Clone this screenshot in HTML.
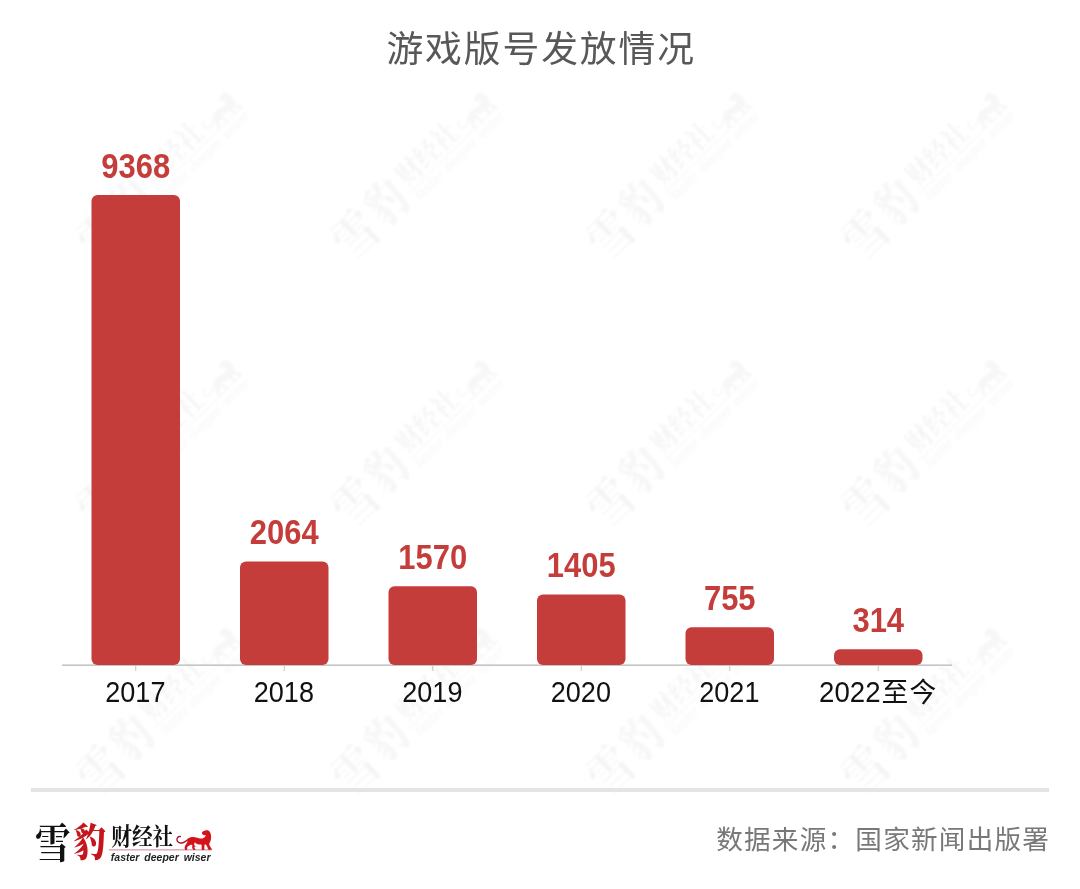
<!DOCTYPE html>
<html lang="zh-CN">
<head>
<meta charset="utf-8">
<title>游戏版号发放情况</title>
<style>
html,body{margin:0;padding:0;background:#fff;}
body{width:1080px;height:889px;overflow:hidden;position:relative;}
svg{display:block;position:absolute;left:0;top:0;}
.title{font-family:"Liberation Sans","Noto Sans CJK SC",sans-serif;font-weight:400;font-size:36.8px;letter-spacing:1.9px;fill:#585858;}
.val{font-family:"Liberation Sans","Noto Sans CJK SC",sans-serif;font-weight:700;font-size:34.6px;fill:#c53d3a;text-anchor:middle;}
.yr{font-family:"Liberation Sans","Noto Sans CJK SC",sans-serif;font-weight:400;font-size:28px;fill:#111;text-anchor:middle;}
.yd{font-size:29.5px;}
.yc{font-size:26.8px;letter-spacing:1.2px;}
.src{font-family:"Liberation Sans","Noto Sans CJK SC",sans-serif;font-weight:400;font-size:26.6px;letter-spacing:1.24px;fill:#787878;}
.lg-xue{font-family:"Liberation Serif","Noto Serif CJK SC",serif;font-weight:700;font-size:34px;fill:#111;}
.lg-bao{font-family:"Liberation Serif","Noto Serif CJK SC",serif;font-weight:900;font-size:35px;fill:#c4161c;}
.lg-cjs{font-family:"Liberation Serif","Noto Serif CJK SC",serif;font-weight:700;font-size:22px;fill:#111;}
.lg-en{font-family:"Liberation Sans",sans-serif;font-style:italic;font-weight:700;font-size:11.6px;word-spacing:2.2px;fill:#222;}
.lg-line{fill:#d7a1ab;}
.lg-cat{fill:#d3141b;}
.lg-tail{fill:none;stroke:#a8102a;stroke-width:1.35;stroke-linecap:round;}
.wm{opacity:.042;filter:blur(.8px);}
.wm text,.wm rect{fill:#000;}
.wm .lg-bao,.wm .lg-cat{fill:#444;}
.wm .lg-tail{stroke:#444;}
.wm .lg-en,.wm .lg-line{fill:#777;}
</style>
</head>
<body>
<svg width="1080" height="889" viewBox="0 0 1080 889">
<rect width="1080" height="889" fill="#ffffff"/>

<g class="wm">
<g transform="translate(159.5 174) rotate(-44.5) scale(1.2) translate(-87 -18)">
<text class="lg-xue" transform="translate(-1.2 34.2) scale(1.053 1.193)">雪</text>
<text class="lg-bao" transform="translate(37.5 32.8) scale(.925 1.12)">豹</text>
<text class="lg-cjs" transform="translate(75.3 21.4) scale(.938 1.06)">财经社</text>
<rect class="lg-line" x="73" y="25.700" width="103" height="1.3"/>
<text class="lg-en" x="74.8" y="37.2" textLength="99.700" lengthAdjust="spacingAndGlyphs">faster deeper wiser</text>
<path class="lg-tail" d="M144.35 13.01C143.97 13.05 143.45 12.78 142.72 13.17C141.99 13.57 141.60 13.89 141.21 14.72C140.83 15.56 140.88 15.86 141.09 16.76C141.30 17.66 141.30 17.95 142.11 18.59C142.92 19.24 143.32 19.43 144.56 19.53C145.79 19.63 146.17 19.46 147.41 19.00C148.64 18.54 148.81 18.24 149.85 17.57C150.90 16.91 151.41 16.48 151.89 16.15"/>
<path class="lg-cat" d="M151.48 15.74C151.98 14.98 152.47 14.82 153.52 14.32C154.56 13.81 154.73 13.72 155.96 13.58C157.20 13.44 157.39 13.51 158.82 13.70C160.24 13.89 160.55 14.08 162.07 14.40C163.60 14.71 164.10 15.02 165.33 15.05C166.57 15.08 166.52 14.96 167.37 14.52C168.23 14.08 168.43 13.77 169.00 13.17C169.57 12.58 169.91 12.28 169.82 11.95C169.72 11.63 169.26 11.95 168.59 11.79C167.93 11.63 167.51 11.62 166.96 11.26C166.41 10.90 166.47 10.78 166.23 10.24C165.99 9.70 165.77 9.46 165.94 8.94C166.12 8.41 166.35 8.41 166.96 8.00C167.58 7.59 167.74 7.47 168.59 7.19C169.45 6.90 169.68 6.75 170.63 6.78C171.58 6.81 171.86 6.78 172.67 7.31C173.48 7.83 173.57 8.05 174.09 9.02C174.62 9.99 174.69 10.13 174.91 11.46C175.13 12.79 175.17 13.20 175.03 14.72C174.89 16.24 174.71 16.65 174.30 17.98C173.89 19.31 173.33 19.29 173.28 20.43C173.23 21.57 173.52 21.62 174.09 22.87C174.66 24.13 175.68 25.00 175.72 25.80C175.77 26.61 175.06 26.26 174.30 26.33C173.54 26.41 173.18 26.84 172.46 26.13C171.75 25.42 171.76 24.32 171.24 23.28C170.72 22.23 170.79 22.17 170.22 21.65C169.65 21.13 169.22 20.56 168.80 21.04C168.37 21.51 168.53 22.48 168.39 23.69C168.25 24.89 168.76 25.62 168.19 26.21C167.62 26.80 166.53 26.80 165.94 26.21C165.36 25.62 165.78 24.83 165.66 23.69C165.54 22.54 165.78 21.97 165.42 21.32C165.05 20.68 164.99 21.08 164.11 20.92C163.24 20.75 162.67 20.89 161.67 20.63C160.67 20.37 160.50 20.26 159.83 19.82C159.17 19.37 159.17 18.57 158.82 18.72C158.46 18.86 158.47 19.74 158.33 20.43C158.18 21.11 157.85 21.10 158.20 21.65C158.56 22.20 159.81 22.31 159.83 22.79C159.86 23.26 158.42 22.91 158.33 23.69C158.23 24.47 159.65 25.54 159.43 26.13C159.21 26.72 158.15 26.69 157.39 26.21C156.63 25.74 156.40 25.06 156.17 24.09C155.93 23.12 156.61 22.72 156.37 22.06C156.13 21.39 155.81 21.24 155.15 21.24C154.48 21.24 154.33 21.63 153.52 22.06C152.71 22.48 152.24 22.46 151.69 23.07C151.13 23.69 151.30 23.97 151.16 24.70C151.01 25.44 151.55 25.86 151.07 26.21C150.60 26.56 149.67 26.80 149.12 26.21C148.57 25.62 148.64 24.75 148.71 23.69C148.79 22.62 148.94 22.60 149.44 21.65C149.95 20.70 150.41 20.56 150.87 19.61C151.33 18.66 151.26 18.48 151.40 17.57C151.54 16.67 150.99 16.50 151.48 15.74Z"/>
</g>
<g transform="translate(414.5 174) rotate(-44.5) scale(1.2) translate(-87 -18)">
<text class="lg-xue" transform="translate(-1.2 34.2) scale(1.053 1.193)">雪</text>
<text class="lg-bao" transform="translate(37.5 32.8) scale(.925 1.12)">豹</text>
<text class="lg-cjs" transform="translate(75.3 21.4) scale(.938 1.06)">财经社</text>
<rect class="lg-line" x="73" y="25.700" width="103" height="1.3"/>
<text class="lg-en" x="74.8" y="37.2" textLength="99.700" lengthAdjust="spacingAndGlyphs">faster deeper wiser</text>
<path class="lg-tail" d="M144.35 13.01C143.97 13.05 143.45 12.78 142.72 13.17C141.99 13.57 141.60 13.89 141.21 14.72C140.83 15.56 140.88 15.86 141.09 16.76C141.30 17.66 141.30 17.95 142.11 18.59C142.92 19.24 143.32 19.43 144.56 19.53C145.79 19.63 146.17 19.46 147.41 19.00C148.64 18.54 148.81 18.24 149.85 17.57C150.90 16.91 151.41 16.48 151.89 16.15"/>
<path class="lg-cat" d="M151.48 15.74C151.98 14.98 152.47 14.82 153.52 14.32C154.56 13.81 154.73 13.72 155.96 13.58C157.20 13.44 157.39 13.51 158.82 13.70C160.24 13.89 160.55 14.08 162.07 14.40C163.60 14.71 164.10 15.02 165.33 15.05C166.57 15.08 166.52 14.96 167.37 14.52C168.23 14.08 168.43 13.77 169.00 13.17C169.57 12.58 169.91 12.28 169.82 11.95C169.72 11.63 169.26 11.95 168.59 11.79C167.93 11.63 167.51 11.62 166.96 11.26C166.41 10.90 166.47 10.78 166.23 10.24C165.99 9.70 165.77 9.46 165.94 8.94C166.12 8.41 166.35 8.41 166.96 8.00C167.58 7.59 167.74 7.47 168.59 7.19C169.45 6.90 169.68 6.75 170.63 6.78C171.58 6.81 171.86 6.78 172.67 7.31C173.48 7.83 173.57 8.05 174.09 9.02C174.62 9.99 174.69 10.13 174.91 11.46C175.13 12.79 175.17 13.20 175.03 14.72C174.89 16.24 174.71 16.65 174.30 17.98C173.89 19.31 173.33 19.29 173.28 20.43C173.23 21.57 173.52 21.62 174.09 22.87C174.66 24.13 175.68 25.00 175.72 25.80C175.77 26.61 175.06 26.26 174.30 26.33C173.54 26.41 173.18 26.84 172.46 26.13C171.75 25.42 171.76 24.32 171.24 23.28C170.72 22.23 170.79 22.17 170.22 21.65C169.65 21.13 169.22 20.56 168.80 21.04C168.37 21.51 168.53 22.48 168.39 23.69C168.25 24.89 168.76 25.62 168.19 26.21C167.62 26.80 166.53 26.80 165.94 26.21C165.36 25.62 165.78 24.83 165.66 23.69C165.54 22.54 165.78 21.97 165.42 21.32C165.05 20.68 164.99 21.08 164.11 20.92C163.24 20.75 162.67 20.89 161.67 20.63C160.67 20.37 160.50 20.26 159.83 19.82C159.17 19.37 159.17 18.57 158.82 18.72C158.46 18.86 158.47 19.74 158.33 20.43C158.18 21.11 157.85 21.10 158.20 21.65C158.56 22.20 159.81 22.31 159.83 22.79C159.86 23.26 158.42 22.91 158.33 23.69C158.23 24.47 159.65 25.54 159.43 26.13C159.21 26.72 158.15 26.69 157.39 26.21C156.63 25.74 156.40 25.06 156.17 24.09C155.93 23.12 156.61 22.72 156.37 22.06C156.13 21.39 155.81 21.24 155.15 21.24C154.48 21.24 154.33 21.63 153.52 22.06C152.71 22.48 152.24 22.46 151.69 23.07C151.13 23.69 151.30 23.97 151.16 24.70C151.01 25.44 151.55 25.86 151.07 26.21C150.60 26.56 149.67 26.80 149.12 26.21C148.57 25.62 148.64 24.75 148.71 23.69C148.79 22.62 148.94 22.60 149.44 21.65C149.95 20.70 150.41 20.56 150.87 19.61C151.33 18.66 151.26 18.48 151.40 17.57C151.54 16.67 150.99 16.50 151.48 15.74Z"/>
</g>
<g transform="translate(669.5 174) rotate(-44.5) scale(1.2) translate(-87 -18)">
<text class="lg-xue" transform="translate(-1.2 34.2) scale(1.053 1.193)">雪</text>
<text class="lg-bao" transform="translate(37.5 32.8) scale(.925 1.12)">豹</text>
<text class="lg-cjs" transform="translate(75.3 21.4) scale(.938 1.06)">财经社</text>
<rect class="lg-line" x="73" y="25.700" width="103" height="1.3"/>
<text class="lg-en" x="74.8" y="37.2" textLength="99.700" lengthAdjust="spacingAndGlyphs">faster deeper wiser</text>
<path class="lg-tail" d="M144.35 13.01C143.97 13.05 143.45 12.78 142.72 13.17C141.99 13.57 141.60 13.89 141.21 14.72C140.83 15.56 140.88 15.86 141.09 16.76C141.30 17.66 141.30 17.95 142.11 18.59C142.92 19.24 143.32 19.43 144.56 19.53C145.79 19.63 146.17 19.46 147.41 19.00C148.64 18.54 148.81 18.24 149.85 17.57C150.90 16.91 151.41 16.48 151.89 16.15"/>
<path class="lg-cat" d="M151.48 15.74C151.98 14.98 152.47 14.82 153.52 14.32C154.56 13.81 154.73 13.72 155.96 13.58C157.20 13.44 157.39 13.51 158.82 13.70C160.24 13.89 160.55 14.08 162.07 14.40C163.60 14.71 164.10 15.02 165.33 15.05C166.57 15.08 166.52 14.96 167.37 14.52C168.23 14.08 168.43 13.77 169.00 13.17C169.57 12.58 169.91 12.28 169.82 11.95C169.72 11.63 169.26 11.95 168.59 11.79C167.93 11.63 167.51 11.62 166.96 11.26C166.41 10.90 166.47 10.78 166.23 10.24C165.99 9.70 165.77 9.46 165.94 8.94C166.12 8.41 166.35 8.41 166.96 8.00C167.58 7.59 167.74 7.47 168.59 7.19C169.45 6.90 169.68 6.75 170.63 6.78C171.58 6.81 171.86 6.78 172.67 7.31C173.48 7.83 173.57 8.05 174.09 9.02C174.62 9.99 174.69 10.13 174.91 11.46C175.13 12.79 175.17 13.20 175.03 14.72C174.89 16.24 174.71 16.65 174.30 17.98C173.89 19.31 173.33 19.29 173.28 20.43C173.23 21.57 173.52 21.62 174.09 22.87C174.66 24.13 175.68 25.00 175.72 25.80C175.77 26.61 175.06 26.26 174.30 26.33C173.54 26.41 173.18 26.84 172.46 26.13C171.75 25.42 171.76 24.32 171.24 23.28C170.72 22.23 170.79 22.17 170.22 21.65C169.65 21.13 169.22 20.56 168.80 21.04C168.37 21.51 168.53 22.48 168.39 23.69C168.25 24.89 168.76 25.62 168.19 26.21C167.62 26.80 166.53 26.80 165.94 26.21C165.36 25.62 165.78 24.83 165.66 23.69C165.54 22.54 165.78 21.97 165.42 21.32C165.05 20.68 164.99 21.08 164.11 20.92C163.24 20.75 162.67 20.89 161.67 20.63C160.67 20.37 160.50 20.26 159.83 19.82C159.17 19.37 159.17 18.57 158.82 18.72C158.46 18.86 158.47 19.74 158.33 20.43C158.18 21.11 157.85 21.10 158.20 21.65C158.56 22.20 159.81 22.31 159.83 22.79C159.86 23.26 158.42 22.91 158.33 23.69C158.23 24.47 159.65 25.54 159.43 26.13C159.21 26.72 158.15 26.69 157.39 26.21C156.63 25.74 156.40 25.06 156.17 24.09C155.93 23.12 156.61 22.72 156.37 22.06C156.13 21.39 155.81 21.24 155.15 21.24C154.48 21.24 154.33 21.63 153.52 22.06C152.71 22.48 152.24 22.46 151.69 23.07C151.13 23.69 151.30 23.97 151.16 24.70C151.01 25.44 151.55 25.86 151.07 26.21C150.60 26.56 149.67 26.80 149.12 26.21C148.57 25.62 148.64 24.75 148.71 23.69C148.79 22.62 148.94 22.60 149.44 21.65C149.95 20.70 150.41 20.56 150.87 19.61C151.33 18.66 151.26 18.48 151.40 17.57C151.54 16.67 150.99 16.50 151.48 15.74Z"/>
</g>
<g transform="translate(924.5 174) rotate(-44.5) scale(1.2) translate(-87 -18)">
<text class="lg-xue" transform="translate(-1.2 34.2) scale(1.053 1.193)">雪</text>
<text class="lg-bao" transform="translate(37.5 32.8) scale(.925 1.12)">豹</text>
<text class="lg-cjs" transform="translate(75.3 21.4) scale(.938 1.06)">财经社</text>
<rect class="lg-line" x="73" y="25.700" width="103" height="1.3"/>
<text class="lg-en" x="74.8" y="37.2" textLength="99.700" lengthAdjust="spacingAndGlyphs">faster deeper wiser</text>
<path class="lg-tail" d="M144.35 13.01C143.97 13.05 143.45 12.78 142.72 13.17C141.99 13.57 141.60 13.89 141.21 14.72C140.83 15.56 140.88 15.86 141.09 16.76C141.30 17.66 141.30 17.95 142.11 18.59C142.92 19.24 143.32 19.43 144.56 19.53C145.79 19.63 146.17 19.46 147.41 19.00C148.64 18.54 148.81 18.24 149.85 17.57C150.90 16.91 151.41 16.48 151.89 16.15"/>
<path class="lg-cat" d="M151.48 15.74C151.98 14.98 152.47 14.82 153.52 14.32C154.56 13.81 154.73 13.72 155.96 13.58C157.20 13.44 157.39 13.51 158.82 13.70C160.24 13.89 160.55 14.08 162.07 14.40C163.60 14.71 164.10 15.02 165.33 15.05C166.57 15.08 166.52 14.96 167.37 14.52C168.23 14.08 168.43 13.77 169.00 13.17C169.57 12.58 169.91 12.28 169.82 11.95C169.72 11.63 169.26 11.95 168.59 11.79C167.93 11.63 167.51 11.62 166.96 11.26C166.41 10.90 166.47 10.78 166.23 10.24C165.99 9.70 165.77 9.46 165.94 8.94C166.12 8.41 166.35 8.41 166.96 8.00C167.58 7.59 167.74 7.47 168.59 7.19C169.45 6.90 169.68 6.75 170.63 6.78C171.58 6.81 171.86 6.78 172.67 7.31C173.48 7.83 173.57 8.05 174.09 9.02C174.62 9.99 174.69 10.13 174.91 11.46C175.13 12.79 175.17 13.20 175.03 14.72C174.89 16.24 174.71 16.65 174.30 17.98C173.89 19.31 173.33 19.29 173.28 20.43C173.23 21.57 173.52 21.62 174.09 22.87C174.66 24.13 175.68 25.00 175.72 25.80C175.77 26.61 175.06 26.26 174.30 26.33C173.54 26.41 173.18 26.84 172.46 26.13C171.75 25.42 171.76 24.32 171.24 23.28C170.72 22.23 170.79 22.17 170.22 21.65C169.65 21.13 169.22 20.56 168.80 21.04C168.37 21.51 168.53 22.48 168.39 23.69C168.25 24.89 168.76 25.62 168.19 26.21C167.62 26.80 166.53 26.80 165.94 26.21C165.36 25.62 165.78 24.83 165.66 23.69C165.54 22.54 165.78 21.97 165.42 21.32C165.05 20.68 164.99 21.08 164.11 20.92C163.24 20.75 162.67 20.89 161.67 20.63C160.67 20.37 160.50 20.26 159.83 19.82C159.17 19.37 159.17 18.57 158.82 18.72C158.46 18.86 158.47 19.74 158.33 20.43C158.18 21.11 157.85 21.10 158.20 21.65C158.56 22.20 159.81 22.31 159.83 22.79C159.86 23.26 158.42 22.91 158.33 23.69C158.23 24.47 159.65 25.54 159.43 26.13C159.21 26.72 158.15 26.69 157.39 26.21C156.63 25.74 156.40 25.06 156.17 24.09C155.93 23.12 156.61 22.72 156.37 22.06C156.13 21.39 155.81 21.24 155.15 21.24C154.48 21.24 154.33 21.63 153.52 22.06C152.71 22.48 152.24 22.46 151.69 23.07C151.13 23.69 151.30 23.97 151.16 24.70C151.01 25.44 151.55 25.86 151.07 26.21C150.60 26.56 149.67 26.80 149.12 26.21C148.57 25.62 148.64 24.75 148.71 23.69C148.79 22.62 148.94 22.60 149.44 21.65C149.95 20.70 150.41 20.56 150.87 19.61C151.33 18.66 151.26 18.48 151.40 17.57C151.54 16.67 150.99 16.50 151.48 15.74Z"/>
</g>
<g transform="translate(159.5 441.5) rotate(-44.5) scale(1.2) translate(-87 -18)">
<text class="lg-xue" transform="translate(-1.2 34.2) scale(1.053 1.193)">雪</text>
<text class="lg-bao" transform="translate(37.5 32.8) scale(.925 1.12)">豹</text>
<text class="lg-cjs" transform="translate(75.3 21.4) scale(.938 1.06)">财经社</text>
<rect class="lg-line" x="73" y="25.700" width="103" height="1.3"/>
<text class="lg-en" x="74.8" y="37.2" textLength="99.700" lengthAdjust="spacingAndGlyphs">faster deeper wiser</text>
<path class="lg-tail" d="M144.35 13.01C143.97 13.05 143.45 12.78 142.72 13.17C141.99 13.57 141.60 13.89 141.21 14.72C140.83 15.56 140.88 15.86 141.09 16.76C141.30 17.66 141.30 17.95 142.11 18.59C142.92 19.24 143.32 19.43 144.56 19.53C145.79 19.63 146.17 19.46 147.41 19.00C148.64 18.54 148.81 18.24 149.85 17.57C150.90 16.91 151.41 16.48 151.89 16.15"/>
<path class="lg-cat" d="M151.48 15.74C151.98 14.98 152.47 14.82 153.52 14.32C154.56 13.81 154.73 13.72 155.96 13.58C157.20 13.44 157.39 13.51 158.82 13.70C160.24 13.89 160.55 14.08 162.07 14.40C163.60 14.71 164.10 15.02 165.33 15.05C166.57 15.08 166.52 14.96 167.37 14.52C168.23 14.08 168.43 13.77 169.00 13.17C169.57 12.58 169.91 12.28 169.82 11.95C169.72 11.63 169.26 11.95 168.59 11.79C167.93 11.63 167.51 11.62 166.96 11.26C166.41 10.90 166.47 10.78 166.23 10.24C165.99 9.70 165.77 9.46 165.94 8.94C166.12 8.41 166.35 8.41 166.96 8.00C167.58 7.59 167.74 7.47 168.59 7.19C169.45 6.90 169.68 6.75 170.63 6.78C171.58 6.81 171.86 6.78 172.67 7.31C173.48 7.83 173.57 8.05 174.09 9.02C174.62 9.99 174.69 10.13 174.91 11.46C175.13 12.79 175.17 13.20 175.03 14.72C174.89 16.24 174.71 16.65 174.30 17.98C173.89 19.31 173.33 19.29 173.28 20.43C173.23 21.57 173.52 21.62 174.09 22.87C174.66 24.13 175.68 25.00 175.72 25.80C175.77 26.61 175.06 26.26 174.30 26.33C173.54 26.41 173.18 26.84 172.46 26.13C171.75 25.42 171.76 24.32 171.24 23.28C170.72 22.23 170.79 22.17 170.22 21.65C169.65 21.13 169.22 20.56 168.80 21.04C168.37 21.51 168.53 22.48 168.39 23.69C168.25 24.89 168.76 25.62 168.19 26.21C167.62 26.80 166.53 26.80 165.94 26.21C165.36 25.62 165.78 24.83 165.66 23.69C165.54 22.54 165.78 21.97 165.42 21.32C165.05 20.68 164.99 21.08 164.11 20.92C163.24 20.75 162.67 20.89 161.67 20.63C160.67 20.37 160.50 20.26 159.83 19.82C159.17 19.37 159.17 18.57 158.82 18.72C158.46 18.86 158.47 19.74 158.33 20.43C158.18 21.11 157.85 21.10 158.20 21.65C158.56 22.20 159.81 22.31 159.83 22.79C159.86 23.26 158.42 22.91 158.33 23.69C158.23 24.47 159.65 25.54 159.43 26.13C159.21 26.72 158.15 26.69 157.39 26.21C156.63 25.74 156.40 25.06 156.17 24.09C155.93 23.12 156.61 22.72 156.37 22.06C156.13 21.39 155.81 21.24 155.15 21.24C154.48 21.24 154.33 21.63 153.52 22.06C152.71 22.48 152.24 22.46 151.69 23.07C151.13 23.69 151.30 23.97 151.16 24.70C151.01 25.44 151.55 25.86 151.07 26.21C150.60 26.56 149.67 26.80 149.12 26.21C148.57 25.62 148.64 24.75 148.71 23.69C148.79 22.62 148.94 22.60 149.44 21.65C149.95 20.70 150.41 20.56 150.87 19.61C151.33 18.66 151.26 18.48 151.40 17.57C151.54 16.67 150.99 16.50 151.48 15.74Z"/>
</g>
<g transform="translate(414.5 441.5) rotate(-44.5) scale(1.2) translate(-87 -18)">
<text class="lg-xue" transform="translate(-1.2 34.2) scale(1.053 1.193)">雪</text>
<text class="lg-bao" transform="translate(37.5 32.8) scale(.925 1.12)">豹</text>
<text class="lg-cjs" transform="translate(75.3 21.4) scale(.938 1.06)">财经社</text>
<rect class="lg-line" x="73" y="25.700" width="103" height="1.3"/>
<text class="lg-en" x="74.8" y="37.2" textLength="99.700" lengthAdjust="spacingAndGlyphs">faster deeper wiser</text>
<path class="lg-tail" d="M144.35 13.01C143.97 13.05 143.45 12.78 142.72 13.17C141.99 13.57 141.60 13.89 141.21 14.72C140.83 15.56 140.88 15.86 141.09 16.76C141.30 17.66 141.30 17.95 142.11 18.59C142.92 19.24 143.32 19.43 144.56 19.53C145.79 19.63 146.17 19.46 147.41 19.00C148.64 18.54 148.81 18.24 149.85 17.57C150.90 16.91 151.41 16.48 151.89 16.15"/>
<path class="lg-cat" d="M151.48 15.74C151.98 14.98 152.47 14.82 153.52 14.32C154.56 13.81 154.73 13.72 155.96 13.58C157.20 13.44 157.39 13.51 158.82 13.70C160.24 13.89 160.55 14.08 162.07 14.40C163.60 14.71 164.10 15.02 165.33 15.05C166.57 15.08 166.52 14.96 167.37 14.52C168.23 14.08 168.43 13.77 169.00 13.17C169.57 12.58 169.91 12.28 169.82 11.95C169.72 11.63 169.26 11.95 168.59 11.79C167.93 11.63 167.51 11.62 166.96 11.26C166.41 10.90 166.47 10.78 166.23 10.24C165.99 9.70 165.77 9.46 165.94 8.94C166.12 8.41 166.35 8.41 166.96 8.00C167.58 7.59 167.74 7.47 168.59 7.19C169.45 6.90 169.68 6.75 170.63 6.78C171.58 6.81 171.86 6.78 172.67 7.31C173.48 7.83 173.57 8.05 174.09 9.02C174.62 9.99 174.69 10.13 174.91 11.46C175.13 12.79 175.17 13.20 175.03 14.72C174.89 16.24 174.71 16.65 174.30 17.98C173.89 19.31 173.33 19.29 173.28 20.43C173.23 21.57 173.52 21.62 174.09 22.87C174.66 24.13 175.68 25.00 175.72 25.80C175.77 26.61 175.06 26.26 174.30 26.33C173.54 26.41 173.18 26.84 172.46 26.13C171.75 25.42 171.76 24.32 171.24 23.28C170.72 22.23 170.79 22.17 170.22 21.65C169.65 21.13 169.22 20.56 168.80 21.04C168.37 21.51 168.53 22.48 168.39 23.69C168.25 24.89 168.76 25.62 168.19 26.21C167.62 26.80 166.53 26.80 165.94 26.21C165.36 25.62 165.78 24.83 165.66 23.69C165.54 22.54 165.78 21.97 165.42 21.32C165.05 20.68 164.99 21.08 164.11 20.92C163.24 20.75 162.67 20.89 161.67 20.63C160.67 20.37 160.50 20.26 159.83 19.82C159.17 19.37 159.17 18.57 158.82 18.72C158.46 18.86 158.47 19.74 158.33 20.43C158.18 21.11 157.85 21.10 158.20 21.65C158.56 22.20 159.81 22.31 159.83 22.79C159.86 23.26 158.42 22.91 158.33 23.69C158.23 24.47 159.65 25.54 159.43 26.13C159.21 26.72 158.15 26.69 157.39 26.21C156.63 25.74 156.40 25.06 156.17 24.09C155.93 23.12 156.61 22.72 156.37 22.06C156.13 21.39 155.81 21.24 155.15 21.24C154.48 21.24 154.33 21.63 153.52 22.06C152.71 22.48 152.24 22.46 151.69 23.07C151.13 23.69 151.30 23.97 151.16 24.70C151.01 25.44 151.55 25.86 151.07 26.21C150.60 26.56 149.67 26.80 149.12 26.21C148.57 25.62 148.64 24.75 148.71 23.69C148.79 22.62 148.94 22.60 149.44 21.65C149.95 20.70 150.41 20.56 150.87 19.61C151.33 18.66 151.26 18.48 151.40 17.57C151.54 16.67 150.99 16.50 151.48 15.74Z"/>
</g>
<g transform="translate(669.5 441.5) rotate(-44.5) scale(1.2) translate(-87 -18)">
<text class="lg-xue" transform="translate(-1.2 34.2) scale(1.053 1.193)">雪</text>
<text class="lg-bao" transform="translate(37.5 32.8) scale(.925 1.12)">豹</text>
<text class="lg-cjs" transform="translate(75.3 21.4) scale(.938 1.06)">财经社</text>
<rect class="lg-line" x="73" y="25.700" width="103" height="1.3"/>
<text class="lg-en" x="74.8" y="37.2" textLength="99.700" lengthAdjust="spacingAndGlyphs">faster deeper wiser</text>
<path class="lg-tail" d="M144.35 13.01C143.97 13.05 143.45 12.78 142.72 13.17C141.99 13.57 141.60 13.89 141.21 14.72C140.83 15.56 140.88 15.86 141.09 16.76C141.30 17.66 141.30 17.95 142.11 18.59C142.92 19.24 143.32 19.43 144.56 19.53C145.79 19.63 146.17 19.46 147.41 19.00C148.64 18.54 148.81 18.24 149.85 17.57C150.90 16.91 151.41 16.48 151.89 16.15"/>
<path class="lg-cat" d="M151.48 15.74C151.98 14.98 152.47 14.82 153.52 14.32C154.56 13.81 154.73 13.72 155.96 13.58C157.20 13.44 157.39 13.51 158.82 13.70C160.24 13.89 160.55 14.08 162.07 14.40C163.60 14.71 164.10 15.02 165.33 15.05C166.57 15.08 166.52 14.96 167.37 14.52C168.23 14.08 168.43 13.77 169.00 13.17C169.57 12.58 169.91 12.28 169.82 11.95C169.72 11.63 169.26 11.95 168.59 11.79C167.93 11.63 167.51 11.62 166.96 11.26C166.41 10.90 166.47 10.78 166.23 10.24C165.99 9.70 165.77 9.46 165.94 8.94C166.12 8.41 166.35 8.41 166.96 8.00C167.58 7.59 167.74 7.47 168.59 7.19C169.45 6.90 169.68 6.75 170.63 6.78C171.58 6.81 171.86 6.78 172.67 7.31C173.48 7.83 173.57 8.05 174.09 9.02C174.62 9.99 174.69 10.13 174.91 11.46C175.13 12.79 175.17 13.20 175.03 14.72C174.89 16.24 174.71 16.65 174.30 17.98C173.89 19.31 173.33 19.29 173.28 20.43C173.23 21.57 173.52 21.62 174.09 22.87C174.66 24.13 175.68 25.00 175.72 25.80C175.77 26.61 175.06 26.26 174.30 26.33C173.54 26.41 173.18 26.84 172.46 26.13C171.75 25.42 171.76 24.32 171.24 23.28C170.72 22.23 170.79 22.17 170.22 21.65C169.65 21.13 169.22 20.56 168.80 21.04C168.37 21.51 168.53 22.48 168.39 23.69C168.25 24.89 168.76 25.62 168.19 26.21C167.62 26.80 166.53 26.80 165.94 26.21C165.36 25.62 165.78 24.83 165.66 23.69C165.54 22.54 165.78 21.97 165.42 21.32C165.05 20.68 164.99 21.08 164.11 20.92C163.24 20.75 162.67 20.89 161.67 20.63C160.67 20.37 160.50 20.26 159.83 19.82C159.17 19.37 159.17 18.57 158.82 18.72C158.46 18.86 158.47 19.74 158.33 20.43C158.18 21.11 157.85 21.10 158.20 21.65C158.56 22.20 159.81 22.31 159.83 22.79C159.86 23.26 158.42 22.91 158.33 23.69C158.23 24.47 159.65 25.54 159.43 26.13C159.21 26.72 158.15 26.69 157.39 26.21C156.63 25.74 156.40 25.06 156.17 24.09C155.93 23.12 156.61 22.72 156.37 22.06C156.13 21.39 155.81 21.24 155.15 21.24C154.48 21.24 154.33 21.63 153.52 22.06C152.71 22.48 152.24 22.46 151.69 23.07C151.13 23.69 151.30 23.97 151.16 24.70C151.01 25.44 151.55 25.86 151.07 26.21C150.60 26.56 149.67 26.80 149.12 26.21C148.57 25.62 148.64 24.75 148.71 23.69C148.79 22.62 148.94 22.60 149.44 21.65C149.95 20.70 150.41 20.56 150.87 19.61C151.33 18.66 151.26 18.48 151.40 17.57C151.54 16.67 150.99 16.50 151.48 15.74Z"/>
</g>
<g transform="translate(924.5 441.5) rotate(-44.5) scale(1.2) translate(-87 -18)">
<text class="lg-xue" transform="translate(-1.2 34.2) scale(1.053 1.193)">雪</text>
<text class="lg-bao" transform="translate(37.5 32.8) scale(.925 1.12)">豹</text>
<text class="lg-cjs" transform="translate(75.3 21.4) scale(.938 1.06)">财经社</text>
<rect class="lg-line" x="73" y="25.700" width="103" height="1.3"/>
<text class="lg-en" x="74.8" y="37.2" textLength="99.700" lengthAdjust="spacingAndGlyphs">faster deeper wiser</text>
<path class="lg-tail" d="M144.35 13.01C143.97 13.05 143.45 12.78 142.72 13.17C141.99 13.57 141.60 13.89 141.21 14.72C140.83 15.56 140.88 15.86 141.09 16.76C141.30 17.66 141.30 17.95 142.11 18.59C142.92 19.24 143.32 19.43 144.56 19.53C145.79 19.63 146.17 19.46 147.41 19.00C148.64 18.54 148.81 18.24 149.85 17.57C150.90 16.91 151.41 16.48 151.89 16.15"/>
<path class="lg-cat" d="M151.48 15.74C151.98 14.98 152.47 14.82 153.52 14.32C154.56 13.81 154.73 13.72 155.96 13.58C157.20 13.44 157.39 13.51 158.82 13.70C160.24 13.89 160.55 14.08 162.07 14.40C163.60 14.71 164.10 15.02 165.33 15.05C166.57 15.08 166.52 14.96 167.37 14.52C168.23 14.08 168.43 13.77 169.00 13.17C169.57 12.58 169.91 12.28 169.82 11.95C169.72 11.63 169.26 11.95 168.59 11.79C167.93 11.63 167.51 11.62 166.96 11.26C166.41 10.90 166.47 10.78 166.23 10.24C165.99 9.70 165.77 9.46 165.94 8.94C166.12 8.41 166.35 8.41 166.96 8.00C167.58 7.59 167.74 7.47 168.59 7.19C169.45 6.90 169.68 6.75 170.63 6.78C171.58 6.81 171.86 6.78 172.67 7.31C173.48 7.83 173.57 8.05 174.09 9.02C174.62 9.99 174.69 10.13 174.91 11.46C175.13 12.79 175.17 13.20 175.03 14.72C174.89 16.24 174.71 16.65 174.30 17.98C173.89 19.31 173.33 19.29 173.28 20.43C173.23 21.57 173.52 21.62 174.09 22.87C174.66 24.13 175.68 25.00 175.72 25.80C175.77 26.61 175.06 26.26 174.30 26.33C173.54 26.41 173.18 26.84 172.46 26.13C171.75 25.42 171.76 24.32 171.24 23.28C170.72 22.23 170.79 22.17 170.22 21.65C169.65 21.13 169.22 20.56 168.80 21.04C168.37 21.51 168.53 22.48 168.39 23.69C168.25 24.89 168.76 25.62 168.19 26.21C167.62 26.80 166.53 26.80 165.94 26.21C165.36 25.62 165.78 24.83 165.66 23.69C165.54 22.54 165.78 21.97 165.42 21.32C165.05 20.68 164.99 21.08 164.11 20.92C163.24 20.75 162.67 20.89 161.67 20.63C160.67 20.37 160.50 20.26 159.83 19.82C159.17 19.37 159.17 18.57 158.82 18.72C158.46 18.86 158.47 19.74 158.33 20.43C158.18 21.11 157.85 21.10 158.20 21.65C158.56 22.20 159.81 22.31 159.83 22.79C159.86 23.26 158.42 22.91 158.33 23.69C158.23 24.47 159.65 25.54 159.43 26.13C159.21 26.72 158.15 26.69 157.39 26.21C156.63 25.74 156.40 25.06 156.17 24.09C155.93 23.12 156.61 22.72 156.37 22.06C156.13 21.39 155.81 21.24 155.15 21.24C154.48 21.24 154.33 21.63 153.52 22.06C152.71 22.48 152.24 22.46 151.69 23.07C151.13 23.69 151.30 23.97 151.16 24.70C151.01 25.44 151.55 25.86 151.07 26.21C150.60 26.56 149.67 26.80 149.12 26.21C148.57 25.62 148.64 24.75 148.71 23.69C148.79 22.62 148.94 22.60 149.44 21.65C149.95 20.70 150.41 20.56 150.87 19.61C151.33 18.66 151.26 18.48 151.40 17.57C151.54 16.67 150.99 16.50 151.48 15.74Z"/>
</g>
<g transform="translate(159.5 709.5) rotate(-44.5) scale(1.2) translate(-87 -18)">
<text class="lg-xue" transform="translate(-1.2 34.2) scale(1.053 1.193)">雪</text>
<text class="lg-bao" transform="translate(37.5 32.8) scale(.925 1.12)">豹</text>
<text class="lg-cjs" transform="translate(75.3 21.4) scale(.938 1.06)">财经社</text>
<rect class="lg-line" x="73" y="25.700" width="103" height="1.3"/>
<text class="lg-en" x="74.8" y="37.2" textLength="99.700" lengthAdjust="spacingAndGlyphs">faster deeper wiser</text>
<path class="lg-tail" d="M144.35 13.01C143.97 13.05 143.45 12.78 142.72 13.17C141.99 13.57 141.60 13.89 141.21 14.72C140.83 15.56 140.88 15.86 141.09 16.76C141.30 17.66 141.30 17.95 142.11 18.59C142.92 19.24 143.32 19.43 144.56 19.53C145.79 19.63 146.17 19.46 147.41 19.00C148.64 18.54 148.81 18.24 149.85 17.57C150.90 16.91 151.41 16.48 151.89 16.15"/>
<path class="lg-cat" d="M151.48 15.74C151.98 14.98 152.47 14.82 153.52 14.32C154.56 13.81 154.73 13.72 155.96 13.58C157.20 13.44 157.39 13.51 158.82 13.70C160.24 13.89 160.55 14.08 162.07 14.40C163.60 14.71 164.10 15.02 165.33 15.05C166.57 15.08 166.52 14.96 167.37 14.52C168.23 14.08 168.43 13.77 169.00 13.17C169.57 12.58 169.91 12.28 169.82 11.95C169.72 11.63 169.26 11.95 168.59 11.79C167.93 11.63 167.51 11.62 166.96 11.26C166.41 10.90 166.47 10.78 166.23 10.24C165.99 9.70 165.77 9.46 165.94 8.94C166.12 8.41 166.35 8.41 166.96 8.00C167.58 7.59 167.74 7.47 168.59 7.19C169.45 6.90 169.68 6.75 170.63 6.78C171.58 6.81 171.86 6.78 172.67 7.31C173.48 7.83 173.57 8.05 174.09 9.02C174.62 9.99 174.69 10.13 174.91 11.46C175.13 12.79 175.17 13.20 175.03 14.72C174.89 16.24 174.71 16.65 174.30 17.98C173.89 19.31 173.33 19.29 173.28 20.43C173.23 21.57 173.52 21.62 174.09 22.87C174.66 24.13 175.68 25.00 175.72 25.80C175.77 26.61 175.06 26.26 174.30 26.33C173.54 26.41 173.18 26.84 172.46 26.13C171.75 25.42 171.76 24.32 171.24 23.28C170.72 22.23 170.79 22.17 170.22 21.65C169.65 21.13 169.22 20.56 168.80 21.04C168.37 21.51 168.53 22.48 168.39 23.69C168.25 24.89 168.76 25.62 168.19 26.21C167.62 26.80 166.53 26.80 165.94 26.21C165.36 25.62 165.78 24.83 165.66 23.69C165.54 22.54 165.78 21.97 165.42 21.32C165.05 20.68 164.99 21.08 164.11 20.92C163.24 20.75 162.67 20.89 161.67 20.63C160.67 20.37 160.50 20.26 159.83 19.82C159.17 19.37 159.17 18.57 158.82 18.72C158.46 18.86 158.47 19.74 158.33 20.43C158.18 21.11 157.85 21.10 158.20 21.65C158.56 22.20 159.81 22.31 159.83 22.79C159.86 23.26 158.42 22.91 158.33 23.69C158.23 24.47 159.65 25.54 159.43 26.13C159.21 26.72 158.15 26.69 157.39 26.21C156.63 25.74 156.40 25.06 156.17 24.09C155.93 23.12 156.61 22.72 156.37 22.06C156.13 21.39 155.81 21.24 155.15 21.24C154.48 21.24 154.33 21.63 153.52 22.06C152.71 22.48 152.24 22.46 151.69 23.07C151.13 23.69 151.30 23.97 151.16 24.70C151.01 25.44 151.55 25.86 151.07 26.21C150.60 26.56 149.67 26.80 149.12 26.21C148.57 25.62 148.64 24.75 148.71 23.69C148.79 22.62 148.94 22.60 149.44 21.65C149.95 20.70 150.41 20.56 150.87 19.61C151.33 18.66 151.26 18.48 151.40 17.57C151.54 16.67 150.99 16.50 151.48 15.74Z"/>
</g>
<g transform="translate(414.5 709.5) rotate(-44.5) scale(1.2) translate(-87 -18)">
<text class="lg-xue" transform="translate(-1.2 34.2) scale(1.053 1.193)">雪</text>
<text class="lg-bao" transform="translate(37.5 32.8) scale(.925 1.12)">豹</text>
<text class="lg-cjs" transform="translate(75.3 21.4) scale(.938 1.06)">财经社</text>
<rect class="lg-line" x="73" y="25.700" width="103" height="1.3"/>
<text class="lg-en" x="74.8" y="37.2" textLength="99.700" lengthAdjust="spacingAndGlyphs">faster deeper wiser</text>
<path class="lg-tail" d="M144.35 13.01C143.97 13.05 143.45 12.78 142.72 13.17C141.99 13.57 141.60 13.89 141.21 14.72C140.83 15.56 140.88 15.86 141.09 16.76C141.30 17.66 141.30 17.95 142.11 18.59C142.92 19.24 143.32 19.43 144.56 19.53C145.79 19.63 146.17 19.46 147.41 19.00C148.64 18.54 148.81 18.24 149.85 17.57C150.90 16.91 151.41 16.48 151.89 16.15"/>
<path class="lg-cat" d="M151.48 15.74C151.98 14.98 152.47 14.82 153.52 14.32C154.56 13.81 154.73 13.72 155.96 13.58C157.20 13.44 157.39 13.51 158.82 13.70C160.24 13.89 160.55 14.08 162.07 14.40C163.60 14.71 164.10 15.02 165.33 15.05C166.57 15.08 166.52 14.96 167.37 14.52C168.23 14.08 168.43 13.77 169.00 13.17C169.57 12.58 169.91 12.28 169.82 11.95C169.72 11.63 169.26 11.95 168.59 11.79C167.93 11.63 167.51 11.62 166.96 11.26C166.41 10.90 166.47 10.78 166.23 10.24C165.99 9.70 165.77 9.46 165.94 8.94C166.12 8.41 166.35 8.41 166.96 8.00C167.58 7.59 167.74 7.47 168.59 7.19C169.45 6.90 169.68 6.75 170.63 6.78C171.58 6.81 171.86 6.78 172.67 7.31C173.48 7.83 173.57 8.05 174.09 9.02C174.62 9.99 174.69 10.13 174.91 11.46C175.13 12.79 175.17 13.20 175.03 14.72C174.89 16.24 174.71 16.65 174.30 17.98C173.89 19.31 173.33 19.29 173.28 20.43C173.23 21.57 173.52 21.62 174.09 22.87C174.66 24.13 175.68 25.00 175.72 25.80C175.77 26.61 175.06 26.26 174.30 26.33C173.54 26.41 173.18 26.84 172.46 26.13C171.75 25.42 171.76 24.32 171.24 23.28C170.72 22.23 170.79 22.17 170.22 21.65C169.65 21.13 169.22 20.56 168.80 21.04C168.37 21.51 168.53 22.48 168.39 23.69C168.25 24.89 168.76 25.62 168.19 26.21C167.62 26.80 166.53 26.80 165.94 26.21C165.36 25.62 165.78 24.83 165.66 23.69C165.54 22.54 165.78 21.97 165.42 21.32C165.05 20.68 164.99 21.08 164.11 20.92C163.24 20.75 162.67 20.89 161.67 20.63C160.67 20.37 160.50 20.26 159.83 19.82C159.17 19.37 159.17 18.57 158.82 18.72C158.46 18.86 158.47 19.74 158.33 20.43C158.18 21.11 157.85 21.10 158.20 21.65C158.56 22.20 159.81 22.31 159.83 22.79C159.86 23.26 158.42 22.91 158.33 23.69C158.23 24.47 159.65 25.54 159.43 26.13C159.21 26.72 158.15 26.69 157.39 26.21C156.63 25.74 156.40 25.06 156.17 24.09C155.93 23.12 156.61 22.72 156.37 22.06C156.13 21.39 155.81 21.24 155.15 21.24C154.48 21.24 154.33 21.63 153.52 22.06C152.71 22.48 152.24 22.46 151.69 23.07C151.13 23.69 151.30 23.97 151.16 24.70C151.01 25.44 151.55 25.86 151.07 26.21C150.60 26.56 149.67 26.80 149.12 26.21C148.57 25.62 148.64 24.75 148.71 23.69C148.79 22.62 148.94 22.60 149.44 21.65C149.95 20.70 150.41 20.56 150.87 19.61C151.33 18.66 151.26 18.48 151.40 17.57C151.54 16.67 150.99 16.50 151.48 15.74Z"/>
</g>
<g transform="translate(669.5 709.5) rotate(-44.5) scale(1.2) translate(-87 -18)">
<text class="lg-xue" transform="translate(-1.2 34.2) scale(1.053 1.193)">雪</text>
<text class="lg-bao" transform="translate(37.5 32.8) scale(.925 1.12)">豹</text>
<text class="lg-cjs" transform="translate(75.3 21.4) scale(.938 1.06)">财经社</text>
<rect class="lg-line" x="73" y="25.700" width="103" height="1.3"/>
<text class="lg-en" x="74.8" y="37.2" textLength="99.700" lengthAdjust="spacingAndGlyphs">faster deeper wiser</text>
<path class="lg-tail" d="M144.35 13.01C143.97 13.05 143.45 12.78 142.72 13.17C141.99 13.57 141.60 13.89 141.21 14.72C140.83 15.56 140.88 15.86 141.09 16.76C141.30 17.66 141.30 17.95 142.11 18.59C142.92 19.24 143.32 19.43 144.56 19.53C145.79 19.63 146.17 19.46 147.41 19.00C148.64 18.54 148.81 18.24 149.85 17.57C150.90 16.91 151.41 16.48 151.89 16.15"/>
<path class="lg-cat" d="M151.48 15.74C151.98 14.98 152.47 14.82 153.52 14.32C154.56 13.81 154.73 13.72 155.96 13.58C157.20 13.44 157.39 13.51 158.82 13.70C160.24 13.89 160.55 14.08 162.07 14.40C163.60 14.71 164.10 15.02 165.33 15.05C166.57 15.08 166.52 14.96 167.37 14.52C168.23 14.08 168.43 13.77 169.00 13.17C169.57 12.58 169.91 12.28 169.82 11.95C169.72 11.63 169.26 11.95 168.59 11.79C167.93 11.63 167.51 11.62 166.96 11.26C166.41 10.90 166.47 10.78 166.23 10.24C165.99 9.70 165.77 9.46 165.94 8.94C166.12 8.41 166.35 8.41 166.96 8.00C167.58 7.59 167.74 7.47 168.59 7.19C169.45 6.90 169.68 6.75 170.63 6.78C171.58 6.81 171.86 6.78 172.67 7.31C173.48 7.83 173.57 8.05 174.09 9.02C174.62 9.99 174.69 10.13 174.91 11.46C175.13 12.79 175.17 13.20 175.03 14.72C174.89 16.24 174.71 16.65 174.30 17.98C173.89 19.31 173.33 19.29 173.28 20.43C173.23 21.57 173.52 21.62 174.09 22.87C174.66 24.13 175.68 25.00 175.72 25.80C175.77 26.61 175.06 26.26 174.30 26.33C173.54 26.41 173.18 26.84 172.46 26.13C171.75 25.42 171.76 24.32 171.24 23.28C170.72 22.23 170.79 22.17 170.22 21.65C169.65 21.13 169.22 20.56 168.80 21.04C168.37 21.51 168.53 22.48 168.39 23.69C168.25 24.89 168.76 25.62 168.19 26.21C167.62 26.80 166.53 26.80 165.94 26.21C165.36 25.62 165.78 24.83 165.66 23.69C165.54 22.54 165.78 21.97 165.42 21.32C165.05 20.68 164.99 21.08 164.11 20.92C163.24 20.75 162.67 20.89 161.67 20.63C160.67 20.37 160.50 20.26 159.83 19.82C159.17 19.37 159.17 18.57 158.82 18.72C158.46 18.86 158.47 19.74 158.33 20.43C158.18 21.11 157.85 21.10 158.20 21.65C158.56 22.20 159.81 22.31 159.83 22.79C159.86 23.26 158.42 22.91 158.33 23.69C158.23 24.47 159.65 25.54 159.43 26.13C159.21 26.72 158.15 26.69 157.39 26.21C156.63 25.74 156.40 25.06 156.17 24.09C155.93 23.12 156.61 22.72 156.37 22.06C156.13 21.39 155.81 21.24 155.15 21.24C154.48 21.24 154.33 21.63 153.52 22.06C152.71 22.48 152.24 22.46 151.69 23.07C151.13 23.69 151.30 23.97 151.16 24.70C151.01 25.44 151.55 25.86 151.07 26.21C150.60 26.56 149.67 26.80 149.12 26.21C148.57 25.62 148.64 24.75 148.71 23.69C148.79 22.62 148.94 22.60 149.44 21.65C149.95 20.70 150.41 20.56 150.87 19.61C151.33 18.66 151.26 18.48 151.40 17.57C151.54 16.67 150.99 16.50 151.48 15.74Z"/>
</g>
<g transform="translate(924.5 709.5) rotate(-44.5) scale(1.2) translate(-87 -18)">
<text class="lg-xue" transform="translate(-1.2 34.2) scale(1.053 1.193)">雪</text>
<text class="lg-bao" transform="translate(37.5 32.8) scale(.925 1.12)">豹</text>
<text class="lg-cjs" transform="translate(75.3 21.4) scale(.938 1.06)">财经社</text>
<rect class="lg-line" x="73" y="25.700" width="103" height="1.3"/>
<text class="lg-en" x="74.8" y="37.2" textLength="99.700" lengthAdjust="spacingAndGlyphs">faster deeper wiser</text>
<path class="lg-tail" d="M144.35 13.01C143.97 13.05 143.45 12.78 142.72 13.17C141.99 13.57 141.60 13.89 141.21 14.72C140.83 15.56 140.88 15.86 141.09 16.76C141.30 17.66 141.30 17.95 142.11 18.59C142.92 19.24 143.32 19.43 144.56 19.53C145.79 19.63 146.17 19.46 147.41 19.00C148.64 18.54 148.81 18.24 149.85 17.57C150.90 16.91 151.41 16.48 151.89 16.15"/>
<path class="lg-cat" d="M151.48 15.74C151.98 14.98 152.47 14.82 153.52 14.32C154.56 13.81 154.73 13.72 155.96 13.58C157.20 13.44 157.39 13.51 158.82 13.70C160.24 13.89 160.55 14.08 162.07 14.40C163.60 14.71 164.10 15.02 165.33 15.05C166.57 15.08 166.52 14.96 167.37 14.52C168.23 14.08 168.43 13.77 169.00 13.17C169.57 12.58 169.91 12.28 169.82 11.95C169.72 11.63 169.26 11.95 168.59 11.79C167.93 11.63 167.51 11.62 166.96 11.26C166.41 10.90 166.47 10.78 166.23 10.24C165.99 9.70 165.77 9.46 165.94 8.94C166.12 8.41 166.35 8.41 166.96 8.00C167.58 7.59 167.74 7.47 168.59 7.19C169.45 6.90 169.68 6.75 170.63 6.78C171.58 6.81 171.86 6.78 172.67 7.31C173.48 7.83 173.57 8.05 174.09 9.02C174.62 9.99 174.69 10.13 174.91 11.46C175.13 12.79 175.17 13.20 175.03 14.72C174.89 16.24 174.71 16.65 174.30 17.98C173.89 19.31 173.33 19.29 173.28 20.43C173.23 21.57 173.52 21.62 174.09 22.87C174.66 24.13 175.68 25.00 175.72 25.80C175.77 26.61 175.06 26.26 174.30 26.33C173.54 26.41 173.18 26.84 172.46 26.13C171.75 25.42 171.76 24.32 171.24 23.28C170.72 22.23 170.79 22.17 170.22 21.65C169.65 21.13 169.22 20.56 168.80 21.04C168.37 21.51 168.53 22.48 168.39 23.69C168.25 24.89 168.76 25.62 168.19 26.21C167.62 26.80 166.53 26.80 165.94 26.21C165.36 25.62 165.78 24.83 165.66 23.69C165.54 22.54 165.78 21.97 165.42 21.32C165.05 20.68 164.99 21.08 164.11 20.92C163.24 20.75 162.67 20.89 161.67 20.63C160.67 20.37 160.50 20.26 159.83 19.82C159.17 19.37 159.17 18.57 158.82 18.72C158.46 18.86 158.47 19.74 158.33 20.43C158.18 21.11 157.85 21.10 158.20 21.65C158.56 22.20 159.81 22.31 159.83 22.79C159.86 23.26 158.42 22.91 158.33 23.69C158.23 24.47 159.65 25.54 159.43 26.13C159.21 26.72 158.15 26.69 157.39 26.21C156.63 25.74 156.40 25.06 156.17 24.09C155.93 23.12 156.61 22.72 156.37 22.06C156.13 21.39 155.81 21.24 155.15 21.24C154.48 21.24 154.33 21.63 153.52 22.06C152.71 22.48 152.24 22.46 151.69 23.07C151.13 23.69 151.30 23.97 151.16 24.70C151.01 25.44 151.55 25.86 151.07 26.21C150.60 26.56 149.67 26.80 149.12 26.21C148.57 25.62 148.64 24.75 148.71 23.69C148.79 22.62 148.94 22.60 149.44 21.65C149.95 20.70 150.41 20.56 150.87 19.61C151.33 18.66 151.26 18.48 151.40 17.57C151.54 16.67 150.99 16.50 151.48 15.74Z"/>
</g>
</g>
<text class="title" x="386.4" y="62.2">游戏版号发放情况</text>
<rect x="62" y="664.5" width="890" height="1.3" fill="#b8b8b8"/>
<rect x="135.25" y="665" width="1" height="6" fill="#c4c4c4"/>
<rect x="283.75" y="665" width="1" height="6" fill="#c4c4c4"/>
<rect x="432.25" y="665" width="1" height="6" fill="#c4c4c4"/>
<rect x="580.75" y="665" width="1" height="6" fill="#c4c4c4"/>
<rect x="729.25" y="665" width="1" height="6" fill="#c4c4c4"/>
<rect x="877.75" y="665" width="1" height="6" fill="#c4c4c4"/>
<rect x="91.5" y="195.10" width="88.5" height="469.90" rx="6" ry="6" fill="#c53d3a"/>
<text class="val" transform="translate(135.75 177.60) scale(0.895 1)">9368</text>
<text class="yr yd" transform="translate(135.35 701.6) scale(0.917 1)">2017</text>
<rect x="240" y="561.47" width="88.5" height="103.53" rx="6" ry="6" fill="#c53d3a"/>
<text class="val" transform="translate(284.25 543.97) scale(0.895 1)">2064</text>
<text class="yr yd" transform="translate(283.85 701.6) scale(0.917 1)">2018</text>
<rect x="388.5" y="586.25" width="88.5" height="78.75" rx="6" ry="6" fill="#c53d3a"/>
<text class="val" transform="translate(432.75 568.75) scale(0.895 1)">1570</text>
<text class="yr yd" transform="translate(432.35 701.6) scale(0.917 1)">2019</text>
<rect x="537" y="594.53" width="88.5" height="70.47" rx="6" ry="6" fill="#c53d3a"/>
<text class="val" transform="translate(581.25 577.03) scale(0.895 1)">1405</text>
<text class="yr yd" transform="translate(580.85 701.6) scale(0.917 1)">2020</text>
<rect x="685.5" y="627.13" width="88.5" height="37.87" rx="6" ry="6" fill="#c53d3a"/>
<text class="val" transform="translate(729.75 609.63) scale(0.895 1)">755</text>
<text class="yr yd" transform="translate(729.35 701.6) scale(0.917 1)">2021</text>
<rect x="834" y="649.25" width="88.5" height="15.75" rx="6" ry="6" fill="#c53d3a"/>
<text class="val" transform="translate(878.25 631.75) scale(0.895 1)">314</text>
<text class="yr" x="819.1" y="701.6" style="text-anchor:start"><tspan class="yd" textLength="61.4" lengthAdjust="spacingAndGlyphs">2022</tspan><tspan class="yc" dx="1.1">至今</tspan></text>
<rect x="31" y="788" width="1018" height="4" fill="#e4e4e4"/>
<text class="src" x="716.2" y="849.2">数据来源：国家新闻出版署</text>
<g transform="translate(36 823.5)">
<text class="lg-xue" transform="translate(-1.2 34.2) scale(1.053 1.193)">雪</text>
<text class="lg-bao" transform="translate(37.5 32.8) scale(.925 1.12)">豹</text>
<text class="lg-cjs" transform="translate(75.3 21.4) scale(.938 1.06)">财经社</text>
<rect class="lg-line" x="73" y="25.700" width="103" height="1.3"/>
<text class="lg-en" x="74.8" y="37.2" textLength="99.700" lengthAdjust="spacingAndGlyphs">faster deeper wiser</text>
<path class="lg-tail" d="M144.35 13.01C143.97 13.05 143.45 12.78 142.72 13.17C141.99 13.57 141.60 13.89 141.21 14.72C140.83 15.56 140.88 15.86 141.09 16.76C141.30 17.66 141.30 17.95 142.11 18.59C142.92 19.24 143.32 19.43 144.56 19.53C145.79 19.63 146.17 19.46 147.41 19.00C148.64 18.54 148.81 18.24 149.85 17.57C150.90 16.91 151.41 16.48 151.89 16.15"/>
<path class="lg-cat" d="M151.48 15.74C151.98 14.98 152.47 14.82 153.52 14.32C154.56 13.81 154.73 13.72 155.96 13.58C157.20 13.44 157.39 13.51 158.82 13.70C160.24 13.89 160.55 14.08 162.07 14.40C163.60 14.71 164.10 15.02 165.33 15.05C166.57 15.08 166.52 14.96 167.37 14.52C168.23 14.08 168.43 13.77 169.00 13.17C169.57 12.58 169.91 12.28 169.82 11.95C169.72 11.63 169.26 11.95 168.59 11.79C167.93 11.63 167.51 11.62 166.96 11.26C166.41 10.90 166.47 10.78 166.23 10.24C165.99 9.70 165.77 9.46 165.94 8.94C166.12 8.41 166.35 8.41 166.96 8.00C167.58 7.59 167.74 7.47 168.59 7.19C169.45 6.90 169.68 6.75 170.63 6.78C171.58 6.81 171.86 6.78 172.67 7.31C173.48 7.83 173.57 8.05 174.09 9.02C174.62 9.99 174.69 10.13 174.91 11.46C175.13 12.79 175.17 13.20 175.03 14.72C174.89 16.24 174.71 16.65 174.30 17.98C173.89 19.31 173.33 19.29 173.28 20.43C173.23 21.57 173.52 21.62 174.09 22.87C174.66 24.13 175.68 25.00 175.72 25.80C175.77 26.61 175.06 26.26 174.30 26.33C173.54 26.41 173.18 26.84 172.46 26.13C171.75 25.42 171.76 24.32 171.24 23.28C170.72 22.23 170.79 22.17 170.22 21.65C169.65 21.13 169.22 20.56 168.80 21.04C168.37 21.51 168.53 22.48 168.39 23.69C168.25 24.89 168.76 25.62 168.19 26.21C167.62 26.80 166.53 26.80 165.94 26.21C165.36 25.62 165.78 24.83 165.66 23.69C165.54 22.54 165.78 21.97 165.42 21.32C165.05 20.68 164.99 21.08 164.11 20.92C163.24 20.75 162.67 20.89 161.67 20.63C160.67 20.37 160.50 20.26 159.83 19.82C159.17 19.37 159.17 18.57 158.82 18.72C158.46 18.86 158.47 19.74 158.33 20.43C158.18 21.11 157.85 21.10 158.20 21.65C158.56 22.20 159.81 22.31 159.83 22.79C159.86 23.26 158.42 22.91 158.33 23.69C158.23 24.47 159.65 25.54 159.43 26.13C159.21 26.72 158.15 26.69 157.39 26.21C156.63 25.74 156.40 25.06 156.17 24.09C155.93 23.12 156.61 22.72 156.37 22.06C156.13 21.39 155.81 21.24 155.15 21.24C154.48 21.24 154.33 21.63 153.52 22.06C152.71 22.48 152.24 22.46 151.69 23.07C151.13 23.69 151.30 23.97 151.16 24.70C151.01 25.44 151.55 25.86 151.07 26.21C150.60 26.56 149.67 26.80 149.12 26.21C148.57 25.62 148.64 24.75 148.71 23.69C148.79 22.62 148.94 22.60 149.44 21.65C149.95 20.70 150.41 20.56 150.87 19.61C151.33 18.66 151.26 18.48 151.40 17.57C151.54 16.67 150.99 16.50 151.48 15.74Z"/>
</g>
</svg>
</body>
</html>
